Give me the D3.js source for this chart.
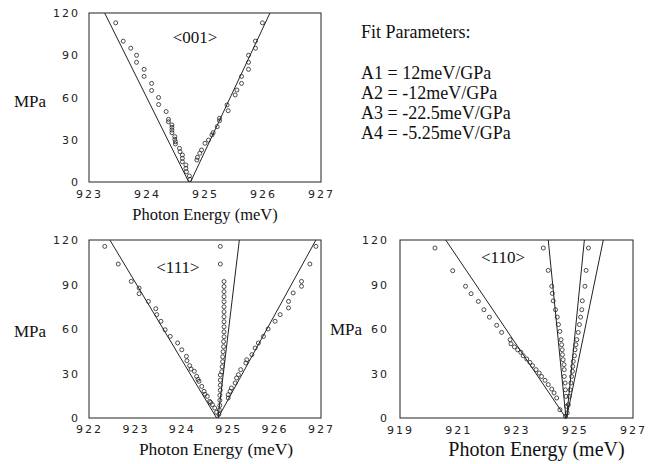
<!DOCTYPE html>
<html>
<head>
<meta charset="utf-8">
<script src="https://cdn.jsdelivr.net/npm/d3@7"></script>
<style>
  body { margin: 0; background: #fff; }
  .tick text { font-family: "DejaVu Sans", sans-serif; font-size: 11px; letter-spacing: 2px; fill: #222; }
</style>
</head>
<body>
<script>
// ---- data (energy in meV, pressure in MPa) ----
var yTicks = [0, 30, 60, 90, 120];

// <001>
var ticks001 = [923, 924, 925, 926, 927];
var pts001 = [
  [923.46,113],[923.59,100],[923.72,95],[923.82,90],[923.82,85],[923.95,80],[923.95,75],
  [924.08,70],[924.08,65],[924.20,60],[924.20,55],[924.33,50],[924.37,44.5],[924.37,42.8],
  [924.43,40.5],[924.43,38.8],[924.43,36.9],[924.43,35],[924.48,32.2],[924.48,30.3],
  [924.49,28.6],[924.49,27],[924.56,23.9],[924.57,21.5],[924.61,19.2],[924.61,16.8],
  [924.61,14.4],[924.67,12.1],[924.67,9.7],[924.68,7.3],[924.73,4.3],[924.74,1.9],
  [924.86,15.6],[924.87,17.5],[924.91,20.4],[924.94,22.7],[925.0,27.5],[925.06,29.8],
  [925.12,33.4],[925.14,35],[925.21,39.3],[925.25,43.5],[925.25,45.2],[925.40,50.6],
  [925.38,54.7],[925.52,61.8],[925.55,65.3],[925.63,70],[925.63,75],[925.75,80],
  [925.75,85],[925.75,90],[925.87,95],[925.87,100],[925.99,113]
];
var fit001 = [
  [[923.27,120],[924.72,0]],
  [[924.75,0],[926.12,120]]
];

// <111>
var ticks111 = [922, 923, 924, 925, 926, 927];
var pts111 = [
  [922.34,115.7],[922.63,103.8],[922.91,92.1],[923.08,87.6],[923.08,83.8],[923.28,78.6],
  [923.44,73.7],[923.46,69.7],[923.55,65.2],[923.64,59.5],[923.75,55],[923.91,50.6],
  [924.0,46],[924.1,41.6],[924.11,38.6],[924.17,35.3],[924.2,33],[924.27,31.5],[924.32,28.1],
  [924.35,26],[924.37,24.7],[924.43,21.3],[924.48,18],[924.5,16],[924.55,14.6],[924.6,11.2],
  [924.62,10.5],[924.66,9],[924.71,6.7],[924.75,3.8],
  [924.83,115.7],[924.83,103.8],[924.91,92],[924.91,88.6],[924.91,85.2],[924.91,81.8],
  [924.91,78.4],[924.91,75],[924.91,71.6],[924.91,68.3],[924.91,64.9],[924.91,61.5],
  [924.91,58.1],[924.91,54.8],[924.90,51.5],[924.90,48.1],[924.89,44.7],[924.88,41.3],
  [924.88,38],[924.87,34.6],[924.86,31.2],[924.83,29],[924.83,25.5],[924.83,22.1],
  [924.83,18.7],[924.82,15.3],[924.82,11.9],[924.82,8.5],[924.81,5.4],[924.80,2.5],
  [926.89,115.7],[926.76,103.8],[926.58,92.1],[926.58,88.8],[926.40,84.3],[926.30,78.6],
  [926.30,74.2],[926.12,69.7],[926.01,65.2],[925.86,60],[925.76,55],[925.65,50.6],
  [925.58,47.2],[925.51,42.7],[925.40,39.3],[925.38,37.1],[925.27,32.6],[925.22,29.2],
  [925.18,27],[925.15,23.6],[925.07,20.2],[925.04,18],[925.0,15.7],[925.0,13.5]
];
var fit111 = [
  [[922.45,120],[924.75,0]],
  [[924.78,0],[925.24,120]],
  [[924.78,0],[926.89,120]]
];

// <110>
var ticks110 = [919, 921, 923, 925, 927];
var pts110 = [
  [920.20,114.6],[920.81,99.3],[921.25,88.8],[921.44,83.8],[921.69,78.6],[921.88,73],
  [922.07,68],[922.32,62.5],[922.49,57.7],[922.78,52.8],[922.81,50],[922.93,47.9],
  [923.04,46],[923.15,44.3],[923.23,42],[923.35,39.8],[923.46,37.5],[923.55,35.3],
  [923.67,32.6],[923.78,30.3],[923.86,28],[923.98,25.4],[924.09,22.5],[924.21,19.5],
  [924.29,16.9],[924.38,13.5],[924.49,5.6],[924.68,1.1],
  [923.92,114.6],[924.09,99.5],[924.21,88.8],[924.23,84],[924.26,79],[924.34,73],
  [924.40,68],[924.44,63],[924.49,58.4],[924.53,52.8],[924.55,49.4],[924.57,46],
  [924.58,42.7],[924.60,39.3],[924.63,36],[924.64,32.6],[924.64,28],[924.67,23.6],
  [924.68,19],[924.70,14.6],[924.72,7.9],
  [925.47,114.6],[925.39,99.5],[925.35,88.8],[925.26,79],[925.24,73],[925.20,68],
  [925.16,63],[925.12,57.7],[925.07,52.8],[925.04,49.4],[925.01,46],[924.99,42],
  [924.95,38.2],[924.93,34.8],[924.92,31.5],[924.89,28],[924.87,23.6],[924.84,19],
  [924.81,14.6],[924.78,9],[924.74,3.4]
];
var fit110 = [
  [[920.57,120],[924.70,0]],
  [[924.09,120],[924.70,0]],
  [[924.72,0],[925.33,120]],
  [[924.72,0],[925.98,120]]
];

var fitText = ["A1 = 12meV/GPa", "A2 = -12meV/GPa", "A3 = -22.5meV/GPa", "A4 = -5.25meV/GPa"];

var serif = "'Liberation Serif', 'Times New Roman', serif";

// ---- drawing ----
var svg = d3.select("body").append("svg")
  .attr("width", 658)
  .attr("height", 464);

function panel(o) {
  var g = svg.append("g").attr("transform", "translate(" + o.left + "," + o.top + ")");

  var x = d3.scaleLinear().domain(d3.extent(o.xticks)).range([0, o.w]);
  var y = d3.scaleLinear().domain([0, 120]).range([o.h, 0]);

  // x axis
  var xa = g.append("g")
    .attr("transform", "translate(0," + o.h + ")")
    .call(d3.axisBottom(x).tickValues(o.xticks).tickFormat(d3.format("d")).tickSize(0).tickPadding(o.xpad));
  xa.select(".domain").remove();

  // y axis
  var ya = g.append("g")
    .call(d3.axisLeft(y).tickValues(yTicks).tickSize(0).tickPadding(o.ypad));
  ya.select(".domain").remove();

  // frame
  g.append("rect")
    .attr("width", o.w).attr("height", o.h)
    .attr("fill", "none").attr("stroke", "#222").attr("stroke-width", 1);

  // fit lines
  g.selectAll(".fit")
    .data(o.fits)
    .enter().append("path")
    .attr("class", "fit")
    .attr("fill", "none")
    .attr("stroke", "#222")
    .attr("stroke-width", 1)
    .attr("d", d3.line().x(function(d) { return x(d[0]); }).y(function(d) { return y(d[1]); }));

  // measured points
  g.selectAll(".pt")
    .data(o.pts)
    .enter().append("circle")
    .attr("class", "pt")
    .attr("cx", function(d) { return x(d[0]); })
    .attr("cy", function(d) { return y(d[1]); })
    .attr("r", 2)
    .attr("fill", "none")
    .attr("stroke", "#222")
    .attr("stroke-width", 0.8);

  // labels
  g.append("text")
    .attr("x", o.titleX).attr("y", o.titleY)
    .attr("text-anchor", "middle")
    .attr("font-family", serif).attr("font-size", o.titleSize).attr("fill", "#111")
    .text(o.title);

  g.append("text")
    .attr("x", o.w / 2 + o.xlabDx).attr("y", o.h + o.xlabDy)
    .attr("text-anchor", "middle")
    .attr("font-family", serif).attr("font-size", o.xlabSize).attr("fill", "#111")
    .text("Photon Energy (meV)");

  g.append("text")
    .attr("x", o.mpaX).attr("y", o.mpaY)
    .attr("font-family", serif).attr("font-size", 17).attr("fill", "#111")
    .text("MPa");
}

panel({left: 89, top: 13, w: 232, h: 169, xticks: ticks001, pts: pts001, fits: fit001,
  xpad: 8, ypad: 9, title: "<001>", titleX: 106, titleY: 30, titleSize: 17,
  xlabDx: 0, xlabDy: 38, xlabSize: 16.5, mpaX: -75, mpaY: 94});

panel({left: 89, top: 240, w: 232, h: 178, xticks: ticks111, pts: pts111, fits: fit111,
  xpad: 7, ypad: 9, title: "<111>", titleX: 89, titleY: 33, titleSize: 17,
  xlabDx: 11, xlabDy: 37, xlabSize: 17.5, mpaX: -75, mpaY: 97});

panel({left: 400, top: 240, w: 233, h: 178, xticks: ticks110, pts: pts110, fits: fit110,
  xpad: 8, ypad: 11, title: "<110>", titleX: 103, titleY: 23, titleSize: 17,
  xlabDx: 20, xlabDy: 38, xlabSize: 20, mpaX: -70, mpaY: 95});

// fit parameter block
var info = svg.append("g")
  .attr("font-family", serif).attr("font-size", 18).attr("fill", "#111");
info.append("text").attr("x", 361).attr("y", 38).text("Fit Parameters:");
info.selectAll(".par")
  .data(fitText)
  .enter().append("text")
  .attr("class", "par")
  .attr("x", 361)
  .attr("y", function(d, i) { return 79 + i * 20; })
  .text(function(d) { return d; });
</script>
</body>
</html>
